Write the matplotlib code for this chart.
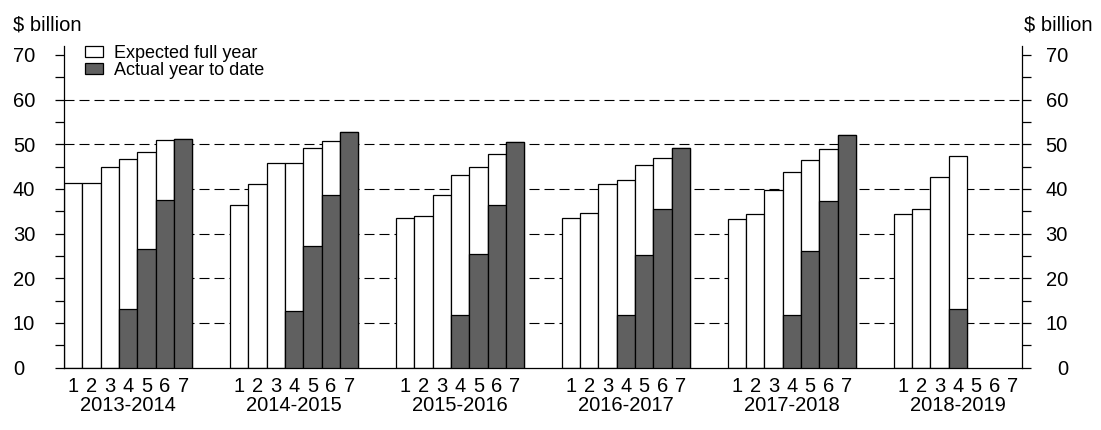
import numpy as np
import matplotlib.pyplot as plt
import matplotlib.transforms as mtransforms
from matplotlib.patches import Patch

plt.rcParams['font.family'] = ['Liberation Sans', 'DejaVu Sans']

years = ['2013-2014', '2014-2015', '2015-2016', '2016-2017', '2017-2018', '2018-2019']
months = ['1', '2', '3', '4', '5', '6', '7']
yticks = [0, 10, 20, 30, 40, 50, 60, 70]

### Expected full year (white bars), slots 1-7 per year
expected = [
    [41.4, 41.4, 44.9, 46.7, 48.2, 50.9, 51.2],
    [36.4, 41.2, 45.9, 45.9, 49.1, 50.7, 52.7],
    [33.4, 33.9, 38.7, 43.0, 44.8, 47.9, 50.4],
    [33.4, 34.7, 41.0, 41.9, 45.3, 47.0, 49.1],
    [33.3, 34.3, 39.8, 43.7, 46.4, 48.9, 52.0],
    [34.3, 35.4, 42.6, 47.3, np.nan, np.nan, np.nan],
]
### Actual year to date (dark bars)
actual = [
    [np.nan, np.nan, np.nan, 13.0, 26.6, 37.6, 51.2],
    [np.nan, np.nan, np.nan, 12.7, 27.1, 38.6, 52.7],
    [np.nan, np.nan, np.nan, 11.8, 25.5, 36.4, 50.4],
    [np.nan, np.nan, np.nan, 11.8, 25.1, 35.6, 49.1],
    [np.nan, np.nan, np.nan, 11.8, 26.0, 37.2, 52.0],
    [np.nan, np.nan, np.nan, 13.2, np.nan, np.nan, np.nan],
]

group_step = 9.05
dark = '#606060'
fs = 14.5

fig = plt.figure(figsize=(11.01, 4.30), dpi=100)
ax = fig.add_axes([64 / 1101, 62.5 / 430, 958 / 1101, 321.5 / 430])

xpos = []
xlab = []
for g in range(len(years)):
    x = g * group_step + np.arange(7)
    ax.bar(x, expected[g], width=1.0, color='white', edgecolor='black', linewidth=0.9, zorder=2)
    ax.bar(x, actual[g], width=1.0, color=dark, edgecolor='black', linewidth=0.9, zorder=3)
    xpos += list(x)
    xlab += months
    ax.text(g * group_step + 3, -0.118, years[g], transform=ax.get_xaxis_transform(),
            ha='center', va='center', fontsize=fs)

### Dashed grid lines
for v in range(10, 70, 10):
    ax.axhline(v, color='black', linestyle=(0, (9, 4.5)), linewidth=0.8, zorder=1)

ax.set_xlim(-0.5, 5 * group_step + 6.5)
ax.set_ylim(0, 72)
ax.set_xticks(xpos)
ax.set_xticklabels(xlab, fontsize=fs)
ax.tick_params(axis='x', length=0, pad=7)

ax.spines['top'].set_visible(False)
for s in ['left', 'right', 'bottom']:
    ax.spines[s].set_linewidth(0.9)

ax.set_yticks(yticks)
ax.set_yticks(range(5, 70, 10), minor=True)
ax.tick_params(axis='y', which='both', direction='out', length=6.5, width=0.9,
               left=True, right=True, labelleft=False, labelright=False)

### y labels: left ones flush left, right ones flush right
trans_l = mtransforms.blended_transform_factory(fig.transFigure, ax.transData)
for v in yticks:
    ax.text(13 / 1101, v, str(v), transform=trans_l, ha='left', va='center_baseline', fontsize=fs)
    ax.text(1068 / 1101, v, str(v), transform=trans_l, ha='right', va='center_baseline', fontsize=fs)

fig.text(13 / 1101, 1 - 25 / 430, '$ billion', ha='left', va='center', fontsize=fs)
fig.text(1092 / 1101, 1 - 25 / 430, '$ billion', ha='right', va='center', fontsize=fs)

handles = [Patch(facecolor='white', edgecolor='black', linewidth=0.9),
           Patch(facecolor=dark, edgecolor='black', linewidth=0.9)]
ax.legend(handles, ['Expected full year', 'Actual year to date'], loc='upper left',
          bbox_to_anchor=(17 / 958, 1.015), frameon=False, fontsize=13,
          handlelength=1.0, handleheight=0.6, handletextpad=0.6,
          labelspacing=0.0, borderpad=0.2, borderaxespad=0)

plt.savefig('out.png', dpi=100)
plt.close()
